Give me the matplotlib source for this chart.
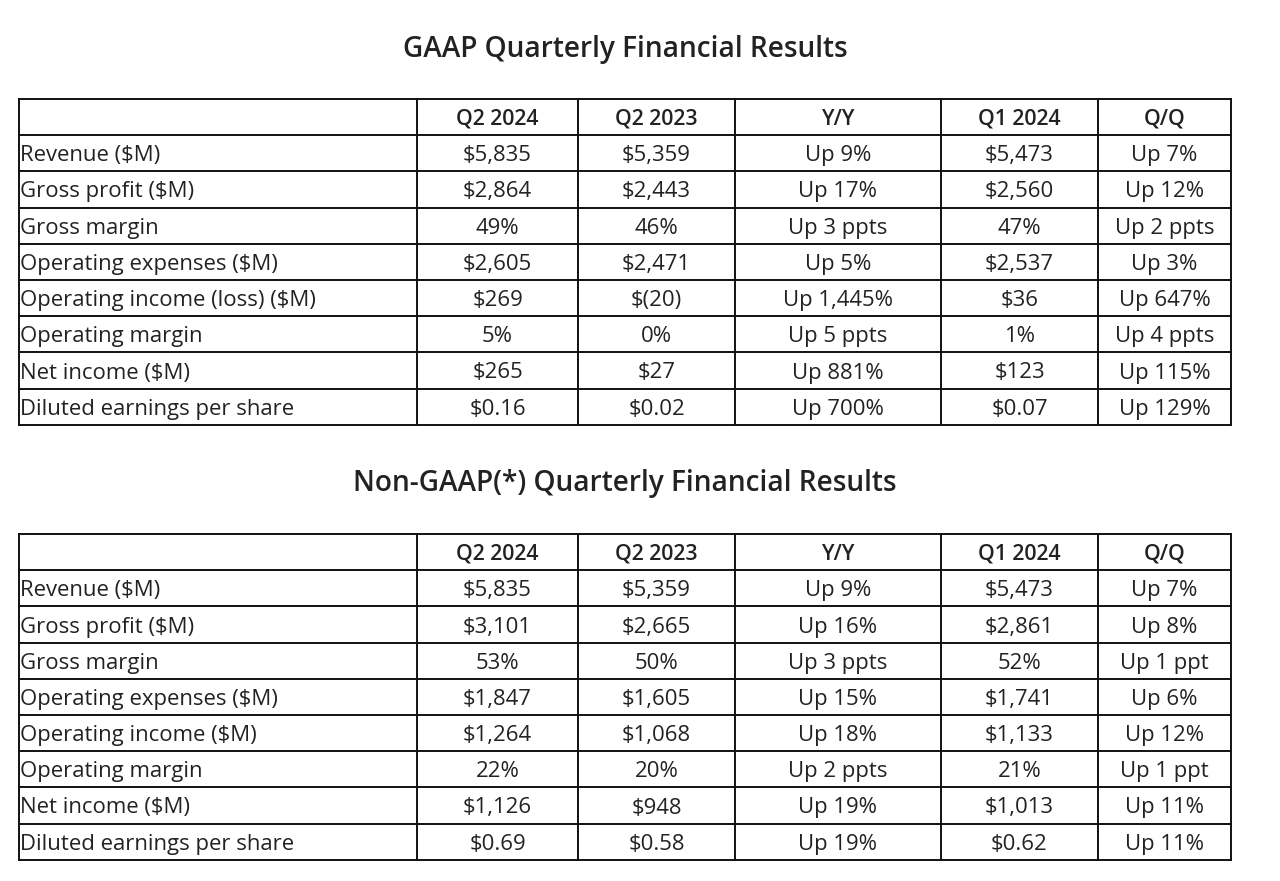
import matplotlib
matplotlib.use("Agg")
import matplotlib.pyplot as plt

# ---------------- data ----------------
columns = ["", "Q2 2024", "Q2 2023", "Y/Y", "Q1 2024", "Q/Q"]

gaap_title = "GAAP Quarterly Financial Results"
gaap_labels = ["Revenue ($M)", "Gross profit ($M)", "Gross margin", "Operating expenses ($M)",
               "Operating income (loss) ($M)", "Operating margin", "Net income ($M)",
               "Diluted earnings per share"]
gaap_q2_2024 = ["$5,835", "$2,864", "49%", "$2,605", "$269", "5%", "$265", "$0.16"]
gaap_q2_2023 = ["$5,359", "$2,443", "46%", "$2,471", "$(20)", "0%", "$27", "$0.02"]
gaap_yy = ["Up 9%", "Up 17%", "Up 3 ppts", "Up 5%", "Up 1,445%", "Up 5 ppts", "Up 881%", "Up 700%"]
gaap_q1_2024 = ["$5,473", "$2,560", "47%", "$2,537", "$36", "1%", "$123", "$0.07"]
gaap_qq = ["Up 7%", "Up 12%", "Up 2 ppts", "Up 3%", "Up 647%", "Up 4 ppts", "Up 115%", "Up 129%"]

ng_title = "Non-GAAP(*) Quarterly Financial Results"
ng_labels = ["Revenue ($M)", "Gross profit ($M)", "Gross margin", "Operating expenses ($M)",
             "Operating income ($M)", "Operating margin", "Net income ($M)",
             "Diluted earnings per share"]
ng_q2_2024 = ["$5,835", "$3,101", "53%", "$1,847", "$1,264", "22%", "$1,126", "$0.69"]
ng_q2_2023 = ["$5,359", "$2,665", "50%", "$1,605", "$1,068", "20%", "$948", "$0.58"]
ng_yy = ["Up 9%", "Up 16%", "Up 3 ppts", "Up 15%", "Up 18%", "Up 2 ppts", "Up 19%", "Up 19%"]
ng_q1_2024 = ["$5,473", "$2,861", "52%", "$1,741", "$1,133", "21%", "$1,013", "$0.62"]
ng_qq = ["Up 7%", "Up 8%", "Up 1 ppt", "Up 6%", "Up 12%", "Up 1 ppt", "Up 11%", "Up 11%"]

# ---------------- layout (pixels) ----------------
W, H = 1280, 881
col_edges = [19, 417, 578, 735, 941, 1098, 1231]
row_h = 36.2
FONT = "Open Sans"
TXT = "#222222"
BODY_FS = 15.9
HEAD_FS = 15.3
TITLE_FS = 20.2

fig = plt.figure(figsize=(W / 100, H / 100), dpi=100)
ax = fig.add_axes([0, 0, 1, 1])
ax.set_xlim(0, W)
ax.set_ylim(H, 0)
ax.axis("off")


def draw_table(title, title_y, top, labels, cols):
    cx = (col_edges[0] + col_edges[-1]) / 2
    ax.text(cx, title_y, title, ha="center", va="center", fontsize=TITLE_FS,
            fontweight="semibold", color=TXT, family=FONT)
    nrows = len(labels) + 1
    bottom = top + nrows * row_h
    for i in range(nrows + 1):
        y = top + i * row_h
        ax.plot([col_edges[0], col_edges[-1]], [y, y], color="#111111", lw=1.4,
                solid_capstyle="projecting")
    for x in col_edges:
        ax.plot([x, x], [top, bottom], color="#111111", lw=1.4, solid_capstyle="projecting")
    for j, name in enumerate(columns):
        if not name:
            continue
        xc = (col_edges[j] + col_edges[j + 1]) / 2
        ax.text(xc, top + row_h / 2 + 2, name, ha="center", va="center", fontsize=HEAD_FS,
                fontweight="semibold", color=TXT, family=FONT)
    for i, lab in enumerate(labels):
        yc = top + (i + 1.5) * row_h + 2.5
        ax.text(col_edges[0] + 1, yc, lab, ha="left", va="center", fontsize=BODY_FS,
                color=TXT, family=FONT)
        for j, col in enumerate(cols):
            xc = (col_edges[j + 1] + col_edges[j + 2]) / 2
            ax.text(xc, yc, col[i], ha="center", va="center", fontsize=BODY_FS,
                    color=TXT, family=FONT)


draw_table(gaap_title, 49, 99, gaap_labels,
           [gaap_q2_2024, gaap_q2_2023, gaap_yy, gaap_q1_2024, gaap_qq])
draw_table(ng_title, 484, 534, ng_labels,
           [ng_q2_2024, ng_q2_2023, ng_yy, ng_q1_2024, ng_qq])

fig.savefig("out.png", dpi=100, facecolor="white")
